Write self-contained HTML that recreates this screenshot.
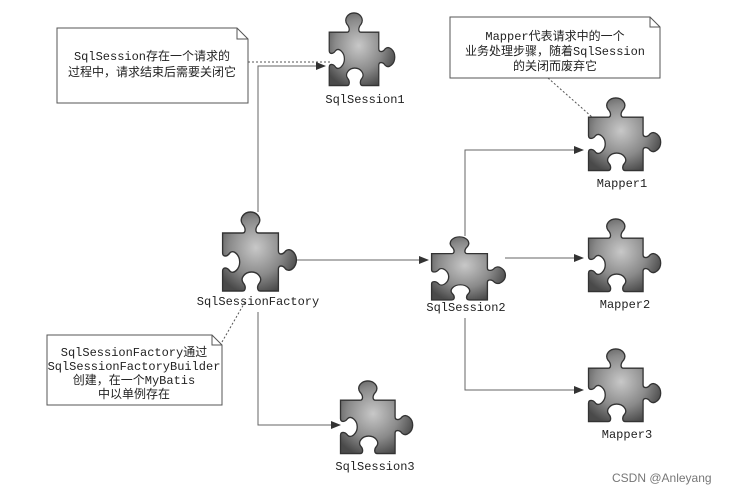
<!DOCTYPE html>
<html><head><meta charset="utf-8"><style>
body{margin:0;background:#fff}
svg text{font-family:"Liberation Mono","Noto Sans CJK SC",monospace;font-size:12px;fill:#222}
</style></head><body>
<svg width="737" height="495" viewBox="0 0 737 495" xmlns="http://www.w3.org/2000/svg">
<defs>
<radialGradient id="g" cx="0.45" cy="0.45" r="0.6">
<stop offset="0" stop-color="#c8c8c8"/><stop offset="0.6" stop-color="#8a8a8a"/><stop offset="1" stop-color="#4a4a4a"/>
</radialGradient>
<marker id="a" markerWidth="10" markerHeight="8" refX="9" refY="4" orient="auto" markerUnits="userSpaceOnUse">
<path d="M0,0 L10,4 L0,8 z" fill="#333"/></marker>
<g id="p">
<path d="M4,22 H26 C30,22 30,17 26,13 C22,7 28,1 35,1 C42,1 48,7 44,13 C40,17 40,22 44,22 H66 V40 C66,44 71,44 74,40 C79,36 86,42 86,49 C86,56 79,62 74,58 C71,54 66,54 66,58 V80 H46 C42,80 42,75 45,72 C49,67 43,61 36,61 C29,61 23,67 27,72 C30,75 30,80 26,80 H4 V60 C4,56 9,56 12,60 C16,64 23,58 23,51 C23,44 16,38 12,42 C9,46 4,46 4,42 Z" fill="url(#g)" stroke="#333" stroke-width="1.5"/>
</g>
</defs>
<g fill="none" stroke="#666" stroke-width="1">
<polyline points="258,212 258,66 325,66" marker-end="url(#a)"/>
<line x1="297" y1="260" x2="428" y2="260" marker-end="url(#a)"/>
<polyline points="258,312 258,425 340,425" marker-end="url(#a)"/>
<polyline points="465,236 465,150 583,150" marker-end="url(#a)"/>
<line x1="505" y1="258" x2="583" y2="258" marker-end="url(#a)"/>
<polyline points="465,318 465,390 583,390" marker-end="url(#a)"/>
<g stroke-dasharray="2,2" stroke="#555">
<line x1="248" y1="62" x2="330" y2="62"/>
<line x1="548" y1="78" x2="592" y2="117"/>
<line x1="222" y1="342" x2="245" y2="302"/>
</g>
</g>
<g fill="#fff" stroke="#555">
<path d="M57,28 H237 L248,39 V103 H57 Z"/><path d="M237,28 V39 H248" fill="none"/>
<path d="M450,17 H650 L660,27 V78 H450 Z"/><path d="M650,17 V27 H660" fill="none"/>
<path d="M47,335 H212 L222,345 V405 H47 Z"/><path d="M212,335 V345 H222" fill="none"/>
</g>
<text x="152" y="60" text-anchor="middle">SqlSession存在一个请求的</text>
<text x="152" y="76" text-anchor="middle">过程中，请求结束后需要关闭它</text>
<text x="555" y="40" text-anchor="middle">Mapper代表请求中的一个</text>
<text x="555" y="55" text-anchor="middle">业务处理步骤，随着SqlSession</text>
<text x="555" y="70" text-anchor="middle">的关闭而废弃它</text>
<text x="134" y="356" text-anchor="middle">SqlSessionFactory通过</text>
<text x="134" y="370" text-anchor="middle">SqlSessionFactoryBuilder</text>
<text x="134" y="384" text-anchor="middle">创建，在一个MyBatis</text>
<text x="134" y="398" text-anchor="middle">中以单例存在</text>
<use href="#p" transform="translate(326,12) scale(0.8,0.92)"/>
<use href="#p" transform="translate(219,211) scale(0.9,1)"/>
<use href="#p" transform="translate(428,236) scale(0.9,0.8)"/>
<use href="#p" transform="translate(585,97) scale(0.88,0.92)"/>
<use href="#p" transform="translate(585,218) scale(0.88,0.92)"/>
<use href="#p" transform="translate(585,348) scale(0.88,0.92)"/>
<use href="#p" transform="translate(337,380) scale(0.88,0.92)"/>
<text x="365" y="103" text-anchor="middle">SqlSession1</text>
<text x="258" y="305" text-anchor="middle">SqlSessionFactory</text>
<text x="466" y="311" text-anchor="middle">SqlSession2</text>
<text x="622" y="187" text-anchor="middle">Mapper1</text>
<text x="625" y="308" text-anchor="middle">Mapper2</text>
<text x="627" y="438" text-anchor="middle">Mapper3</text>
<text x="375" y="470" text-anchor="middle">SqlSession3</text>
<text x="612" y="482" style="font-family:'Liberation Sans',sans-serif;font-size:12px;fill:#777">CSDN @Anleyang</text>
</svg>
</body></html>
